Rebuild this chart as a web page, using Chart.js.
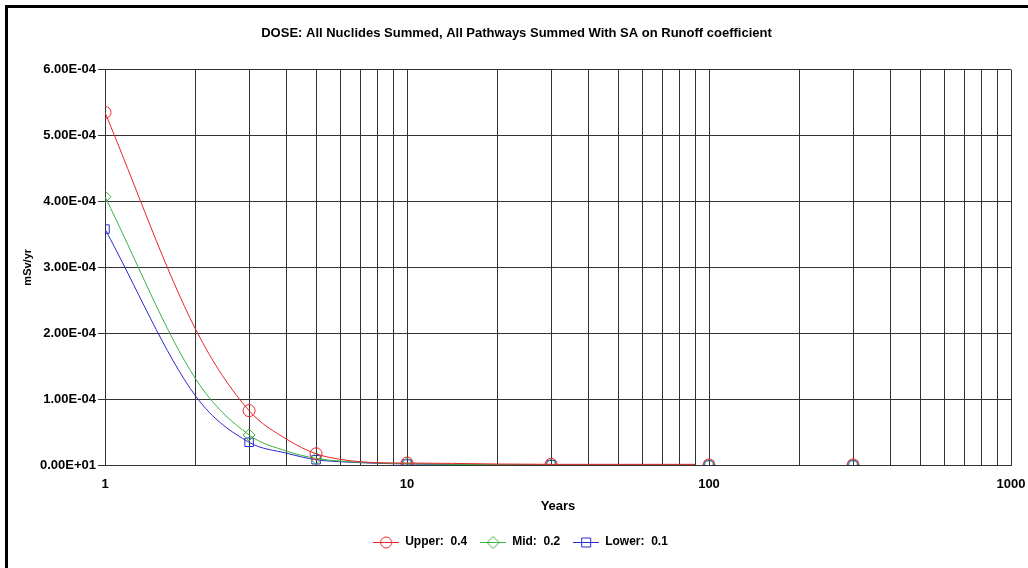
<!DOCTYPE html>
<html>
<head>
<meta charset="utf-8">
<script src="https://cdn.jsdelivr.net/npm/chart.js@4"></script>
<style>
  body { margin: 0; background: #fff; }
  #wrap { position: absolute; left: 0; top: 0; width: 1028px; height: 568px; }
  #frame { position: absolute; left: 5px; top: 5px; width: 1030px; height: 570px;
           border-top: 3px solid #000; border-left: 3px solid #000; pointer-events: none; }
</style>
</head>
<body>
<div id="wrap"><canvas id="doseChart" width="1028" height="568"></canvas></div>
<div id="frame"></div>
<script>
// data (mSv/yr)
const years  = [1, 2, 3, 4, 5, 6, 7, 8, 9, 10, 20, 30, 40, 50, 60, 70, 80, 90, 95, 100, 200, 300];
const upper  = [5.35e-4, 2.05e-4, 0.825e-4, 0.39e-4, 0.17e-4, 0.087e-4, 0.05e-4, 0.035e-4, 0.03e-4, 0.03e-4,
                0.015e-4, 0.01e-4, 0.01e-4, 0.01e-4, 0.01e-4, 0.01e-4, 0.01e-4, 0.01e-4, null, 0, null, 0];
const mid    = [4.07e-4, 1.30e-4, 0.456e-4, 0.21e-4, 0.10e-4, 0.06e-4, 0.04e-4, 0.03e-4, 0.025e-4, 0.02e-4,
                0.005e-4, 0.005e-4, 0.005e-4, 0.005e-4, 0.005e-4, 0.005e-4, 0.005e-4, 0.005e-4, null, 0, null, 0];
const lower  = [3.58e-4, 1.04e-4, 0.345e-4, 0.178e-4, 0.08e-4, 0.05e-4, 0.035e-4, 0.025e-4, 0.02e-4, 0.015e-4,
                0.005e-4, 0.005e-4, 0.005e-4, 0.005e-4, 0.005e-4, 0.005e-4, 0.005e-4, 0.005e-4, null, 0, null, 0];
const markerYears = [1, 3, 5, 10, 30, 100, 300];
const yTickValues = [0, 1e-4, 2e-4, 3e-4, 4e-4, 5e-4, 6e-4];
const yTickLabels = ['0.00E+01', '1.00E-04', '2.00E-04', '3.00E-04', '4.00E-04', '5.00E-04', '6.00E-04'];
const xTickLabels = {1: '1', 10: '10', 100: '100', 1000: '1000'};

const FONT = 'Liberation Sans, Arial, sans-serif';

function toPoints(vals) {
    return years.map((x, i) => ({x: x, y: vals[i]}));
}

// small picture of line + marker for the legend
function legendIcon(color, style) {
    const c = document.createElement('canvas');
    c.width = 26; c.height = 14;
    const g = c.getContext('2d');
    g.strokeStyle = color;
    g.lineWidth = 1;
    g.beginPath(); g.moveTo(0, 7.5); g.lineTo(26, 7.5); g.stroke();
    g.beginPath();
    if (style == 'circle') {
        g.arc(13, 7.5, 5.5, 0, Math.PI * 2);
    } else if (style == 'rectRot') {
        g.moveTo(13, 1.5); g.lineTo(19, 7.5); g.lineTo(13, 13.5); g.lineTo(7, 7.5); g.closePath();
    } else {
        g.rect(8.5, 3, 9, 9);
    }
    g.stroke();
    return c;
}

function series(label, vals, color, style) {
    return {
        label: label,
        data: toPoints(vals),
        borderColor: color,
        backgroundColor: 'transparent',
        borderWidth: 1,
        pointStyle: style,
        pointBorderColor: color,
        pointBackgroundColor: 'transparent',
        pointBorderWidth: 1,
        pointRadius: ctx => (ctx.raw && markerYears.includes(ctx.raw.x)) ? 6 : 0,
        pointHoverRadius: 0,
        cubicInterpolationMode: 'monotone',
        spanGaps: false,
        icon: legendIcon(color, style)
    };
}

const xTicks = [];
[1, 10, 100].forEach(d => { for (let k = 1; k < 10; k++) xTicks.push(d * k); });
xTicks.push(1000);

// title and legend sit centred on the whole picture, not on the plot
const blockShift = {
    id: 'blockShift',
    afterLayout(chart) {
        chart.legend.left += 15;
        chart.legend.right += 15;
        chart.titleBlock.left += 11;
        chart.titleBlock.right += 11;
    }
};

new Chart('doseChart', {
    type: 'line',
    data: {
        datasets: [
            series('Upper:  0.4', upper, '#e8262b', 'circle'),
            series('Mid:  0.2', mid, '#3cb043', 'rectRot'),
            series('Lower:  0.1', lower, '#2a2ad0', 'rect')
        ]
    },
    plugins: [blockShift],
    options: {
        responsive: false,
        animation: false,
        events: [],
        layout: { padding: { left: 0, right: 17, top: 0, bottom: 10 } },
        plugins: {
            title: {
                display: true,
                text: 'DOSE: All Nuclides Summed, All Pathways Summed With SA on Runoff coefficient',
                color: '#000',
                font: { family: FONT, size: 13, weight: 'bold' },
                padding: { top: 26, bottom: 28 }
            },
            legend: {
                position: 'bottom',
                labels: {
                    color: '#000',
                    font: { family: FONT, size: 12, weight: 'bold' },
                    usePointStyle: true,
                    pointStyleWidth: 26,
                    boxHeight: 12,
                    padding: 13,
                    generateLabels: chart => chart.data.datasets.map((ds, i) => ({
                        text: ds.label,
                        pointStyle: ds.icon,
                        fillStyle: 'transparent',
                        strokeStyle: ds.borderColor,
                        lineWidth: 0,
                        fontColor: '#000',
                        datasetIndex: i
                    }))
                }
            },
            tooltip: { enabled: false }
        },
        scales: {
            x: {
                type: 'logarithmic',
                min: 1,
                max: 1000,
                afterBuildTicks: scale => { scale.ticks = xTicks.map(v => ({value: v})); },
                afterFit: scale => {
                    scale.height = 58;
                    scale.paddingLeft = 0;
                    scale.paddingRight = 0;
                },
                ticks: {
                    autoSkip: false,
                    maxRotation: 0,
                    padding: 12,
                    color: '#000',
                    font: { family: FONT, size: 13, weight: 'bold' },
                    callback: v => xTickLabels[v] || ''
                },
                grid: { color: '#333', lineWidth: 1, drawTicks: false },
                border: { color: '#333' },
                title: {
                    display: true,
                    text: 'Years',
                    color: '#000',
                    font: { family: FONT, size: 13, weight: 'bold' },
                    padding: { top: 0, bottom: 9 }
                }
            },
            y: {
                min: 0,
                max: 6e-4,
                afterBuildTicks: scale => { scale.ticks = yTickValues.map(v => ({value: v})); },
                afterFit: scale => { scale.width = 105; },
                ticks: {
                    padding: 2,
                    color: '#000',
                    font: { family: FONT, size: 13, weight: 'bold' },
                    callback: (v, i) => yTickLabels[i]
                },
                grid: { color: '#333', lineWidth: 1, tickLength: 7 },
                border: { color: '#333' },
                title: {
                    display: true,
                    text: 'mSv/yr',
                    color: '#000',
                    font: { family: FONT, size: 11, weight: 'bold' },
                    padding: { top: 21, bottom: 0 }
                }
            }
        }
    }
});
</script>
</body>
</html>
